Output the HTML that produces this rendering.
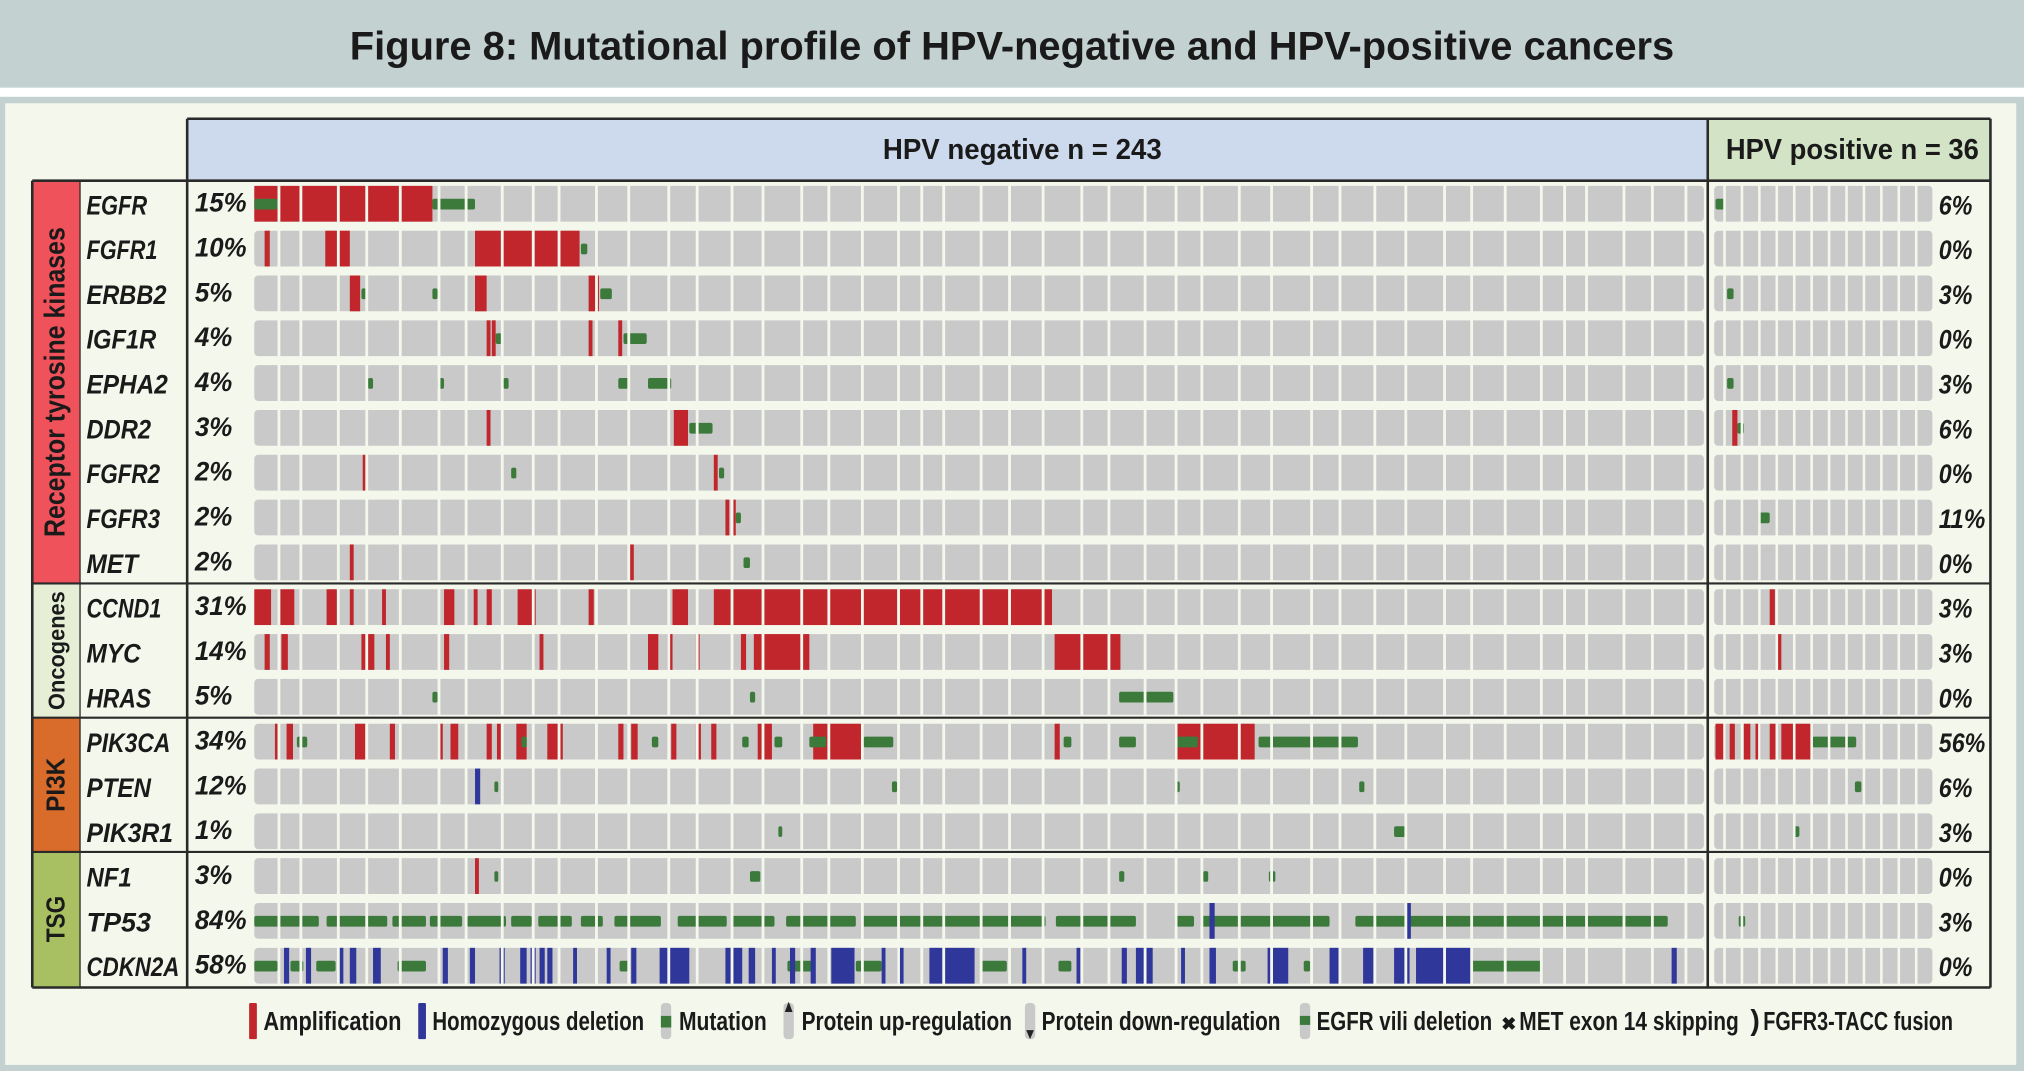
<!DOCTYPE html>
<html><head><meta charset="utf-8">
<style>
html,body{margin:0;padding:0;background:#fff;width:2024px;height:1071px;overflow:hidden}
svg{display:block}
text{font-family:"Liberation Sans Narrow","Liberation Sans",sans-serif;font-weight:bold;fill:#1a1a1a}
</style></head>
<body>
<svg id="s" xmlns="http://www.w3.org/2000/svg" width="2024" height="1071" viewBox="0 0 1568 829.7" preserveAspectRatio="none">
<rect x="0" y="0" width="1568" height="68" fill="#c3d1d1"/>
<rect x="0" y="68" width="1568" height="7" fill="#ffffff"/>
<rect x="0" y="75" width="1568" height="755" fill="#c3d1d1"/>
<rect x="4" y="80" width="1558" height="745" fill="#f4f7ec"/>
<text x="784" y="46" text-anchor="middle" font-size="31" textLength="1026" lengthAdjust="spacingAndGlyphs">Figure 8: Mutational profile of HPV-negative and HPV-positive cancers</text>
<rect x="145" y="92" width="1178" height="48" fill="#cdd9ec"/>
<rect x="1323" y="92" width="219" height="48" fill="#d3e3c6"/>
<text x="792" y="123" text-anchor="middle" font-size="22" textLength="216" lengthAdjust="spacingAndGlyphs">HPV negative n = 243</text>
<text x="1435" y="123" text-anchor="middle" font-size="22" textLength="196" lengthAdjust="spacingAndGlyphs">HPV positive n = 36</text>
<rect x="25" y="140" width="37" height="312" fill="#f0525c"/>
<rect x="25" y="452" width="37" height="104" fill="#e6efd6"/>
<rect x="25" y="556" width="37" height="104" fill="#d96b2b"/>
<rect x="25" y="660" width="37" height="105" fill="#a8c061"/>
<g id="g"></g>
</svg>
<script>
var s=document.getElementById('g'),NS='http://www.w3.org/2000/svg';
function el(t,a,txt){var e=document.createElementNS(NS,t);for(var k in a)e.setAttribute(k,a[k]);if(txt)e.textContent=txt;s.appendChild(e);return e;}
var genes=['EGFR','FGFR1','ERBB2','IGF1R','EPHA2','DDR2','FGFR2','FGFR3','MET','CCND1','MYC','HRAS','PIK3CA','PTEN','PIK3R1','NF1','TP53','CDKN2A'];
var gw=[47,55,62,54,63,50,57,57,40,58,42,50,65,50,67,35,50,72];
var pl=['15%','10%','5%','4%','4%','3%','2%','2%','2%','31%','14%','5%','34%','12%','1%','3%','84%','58%'];
var pr=['6%','0%','3%','0%','3%','6%','0%','11%','0%','3%','3%','0%','56%','6%','3%','0%','3%','0%'];
var RH=625/18;
var ev={
EGFR:[['A',197,335],['M',197,215],['M',335,368],['M',1329,1336]],
FGFR1:[['A',205,209],['A',252,271],['A',368,449],['M',450,455]],
ERBB2:[['A',271,279],['A',368,377],['A',456,464],['M',280,284],['M',335,339],['M',465,474],['M',1338,1343]],
IGF1R:[['A',377,380],['A',381,384],['A',456,459],['A',479,482],['M',384,389],['M',483,501]],
EPHA2:[['M',285,289],['M',339,344],['M',390,394],['M',479,488],['M',502,520],['M',1338,1343]],
DDR2:[['A',377,380],['A',522,533],['M',534,552],['A',1342,1346],['M',1346,1351]],
FGFR2:[['A',281,284],['A',553,556],['M',396,400],['M',557,561]],
FGFR3:[['A',562,565],['A',567,570],['M',570,574],['M',1362,1371]],
MET:[['A',271,274],['A',488,491],['M',576,581]],
CCND1:[['A',197,210],['A',215,228],['A',253,261],['A',271,274],['A',296,299],['A',344,352],['A',367,370],['A',377,381],['A',401,415],['A',456,460],['A',521,533],['A',553,815],['A',1371,1375]],
MYC:[['A',205,209],['A',218,223],['A',280,290],['A',299,302],['A',344,348],['A',418,421],['A',502,510],['A',517,521],['A',539,542],['A',574,578],['A',584,627],['A',817,868],['A',1376,1380]],
HRAS:[['M',335,339],['M',581,585],['M',867,909]],
PIK3CA:[['A',213,216],['A',222,227],['A',275,283],['A',302,306],['A',339,343],['A',349,355],['A',377,381],['A',385,390],['A',400,408],['A',424,436],['A',479,483],['A',489,494],['A',520,524],['A',539,543],['A',551,555],['A',587,598],['A',630,669],['A',817,821],['A',910,972],['M',230,238],['M',404,408],['M',505,510],['M',575,580],['M',600,606],['M',627,640],['M',669,692],['M',824,830],['M',867,880],['M',910,928],['M',975,1052],['A',1329,1337],['A',1340,1344],['A',1351,1356],['A',1360,1364],['A',1371,1376],['A',1380,1404],['M',1404,1438]],
PTEN:[['D',368,372],['M',383,386],['M',691,695],['M',910,914],['M',1053,1057],['M',1437,1442]],
PIK3R1:[['M',603,606],['M',1080,1089],['M',1390,1394]],
NF1:[['A',368,371],['M',383,386],['M',581,589],['M',867,871],['M',932,936],['M',983,988]],
TP53:[['M',197,247],['M',253,300],['M',304,330],['M',333,358],['M',362,392],['M',396,412],['M',417,443],['M',450,467],['M',476,512],['M',525,563],['M',567,600],['M',609,663],['M',668,810],['M',818,880],['M',910,925],['M',930,1030],['M',1050,1292],['D',937,941],['D',1089,1093],['M',1347,1352]],
CDKN2A:[['M',197,215],['M',225,235],['M',245,260],['M',308,330],['M',480,488],['M',610,630],['M',663,683],['M',760,780],['M',820,830],['M',955,965],['M',1010,1015],['M',1140,1195],
['D',220,224],['D',237,241],['D',262,266],['D',271,276],['D',289,295],['D',343,347],['D',364,368],['D',387,391],['D',403,408],['D',411,415],['D',418,422],['D',424,428],['D',444,447],['D',470,473],['D',489,493],['D',511,534],['D',562,575],['D',580,585],['D',598,601],['D',612,616],['D',628,632],['D',644,662],['D',683,686],['D',695,700],['D',720,755],['D',792,795],['D',834,837],['D',869,873],['D',880,893],['D',915,918],['D',937,942],['D',982,998],['D',1030,1037],['D',1056,1064],['D',1080,1092],['D',1097,1140],['D',1295,1299]]
};
var col={A:'#c0262c',D:'#30379a',M:'#3c7a3c'};
var gaps=[],x=197;var seq=[18,17,29,22,26,30,21,28,24,20,29,25,31,22,27,24,30,21,26,28];var i=0;
while(x<1300){x+=seq[i%seq.length];i++;if(x<1312)gaps.push(x);}
var pg=[];for(x=1335;x<1497;x+=13.5)pg.push(x);
for(var r=0;r<18;r++){
 var y0=140+r*RH,ct=y0+4,h=RH-7;
 el('rect',{x:197,y:ct,width:1123,height:h,fill:'#c9c9c9',rx:3});
 el('rect',{x:1328,y:ct,width:169,height:h,fill:'#c9c9c9',rx:3});
 (ev[genes[r]]||[]).forEach(function(e){
  var w=Math.max(3,e[2]-e[1]);
  if(e[0]=='M')el('rect',{x:e[1],y:ct+h*0.36,width:w,height:h*0.3,fill:col.M,rx:1.5});
  else el('rect',{x:e[1],y:ct,width:w,height:h,fill:col[e[0]]});
 });
 gaps.forEach(function(g){el('rect',{x:g,y:ct-1,width:2.2,height:h+2,fill:'#f4f7ec'});});
 pg.forEach(function(g){el('rect',{x:g,y:ct-1,width:2,height:h+2,fill:'#f4f7ec'});});
 el('text',{x:67,y:y0+26,'font-size':21,'font-style':'italic',textLength:gw[r],lengthAdjust:'spacingAndGlyphs'},genes[r]);
 el('text',{x:151,y:y0+24,'font-size':21,'font-style':'italic','font-weight':'normal',textLength:pl[r].length==3?40:29,lengthAdjust:'spacingAndGlyphs'},pl[r]);
 el('text',{x:1502,y:y0+26,'font-size':21,'font-style':'italic','font-weight':'normal',textLength:pr[r].length==3?36:26,lengthAdjust:'spacingAndGlyphs'},pr[r]);
}
function vt(txt,cy,len,fs,fill){el('text',{x:0,y:0,'font-size':fs,'text-anchor':'middle',transform:'translate(50,'+cy+') rotate(-90)',textLength:len,lengthAdjust:'spacingAndGlyphs',fill:fill},txt);}
vt('Receptor tyrosine kinases',296,240,22,'#1a1a1a');
vt('Oncogenes',504,92,18,'#1a1a1a');
vt('PI3K',608,42,20,'#1a1a1a');
vt('TSG',712,36,20,'#1a1a1a');
var L='#2a2a2a';
function ln(x1,y1,x2,y2,w){el('line',{x1:x1,y1:y1,x2:x2,y2:y2,stroke:L,'stroke-width':w||2});}
ln(145,92,1542,92);ln(25,140,1542,140);ln(25,765,1542,765);
ln(25,140,25,765);ln(145,92,145,765);ln(1323,92,1323,765);ln(1542,92,1542,765);
[452,556,660].forEach(function(y){ln(25,y,1542,y,1.6);});
ln(62,140,62,765,1);
var ly=790;
function leg(x,c,w,txt,tl){el('rect',{x:x,y:ly-13,width:w,height:28,fill:c,rx:1});el('text',{x:x+w+5,y:ly+8,'font-size':20,textLength:tl,lengthAdjust:'spacingAndGlyphs'},txt);}
leg(193,'#c0262c',6,'Amplification',107);
leg(324,'#30379a',6,'Homozygous deletion',164);
el('rect',{x:512,y:ly-13,width:8,height:28,fill:'#c9c9c9',rx:3});el('rect',{x:512,y:ly-3,width:8,height:9,fill:'#3c7a3c'});
el('text',{x:526,y:ly+8,'font-size':20,textLength:68,lengthAdjust:'spacingAndGlyphs'},'Mutation');
el('rect',{x:607,y:ly-13,width:8,height:28,fill:'#c9c9c9',rx:3});
el('polygon',{points:'608,'+(ly-6)+' 614,'+(ly-6)+' 611,'+(ly-14),fill:'#222'});
el('text',{x:621,y:ly+8,'font-size':20,textLength:163,lengthAdjust:'spacingAndGlyphs'},'Protein up-regulation');
el('rect',{x:794,y:ly-13,width:8,height:28,fill:'#c9c9c9',rx:3});
el('polygon',{points:'795,'+(ly+8)+' 801,'+(ly+8)+' 798,'+(ly+15),fill:'#222'});
el('text',{x:807,y:ly+8,'font-size':20,textLength:185,lengthAdjust:'spacingAndGlyphs'},'Protein down-regulation');
el('rect',{x:1007,y:ly-13,width:8,height:28,fill:'#c9c9c9',rx:3});el('rect',{x:1007,y:ly-3,width:8,height:7,fill:'#3c7a3c'});
el('text',{x:1020,y:ly+8,'font-size':20,textLength:136,lengthAdjust:'spacingAndGlyphs'},'EGFR vili deletion');
el('text',{x:1163,y:ly+8,'font-size':14},'✖');
el('text',{x:1177,y:ly+8,'font-size':20,textLength:170,lengthAdjust:'spacingAndGlyphs'},'MET exon 14 skipping');
el('text',{x:1356,y:ly+8,'font-size':22},')');
el('text',{x:1366,y:ly+8,'font-size':20,textLength:147,lengthAdjust:'spacingAndGlyphs'},'FGFR3-TACC fusion');
</script>
</body></html>
